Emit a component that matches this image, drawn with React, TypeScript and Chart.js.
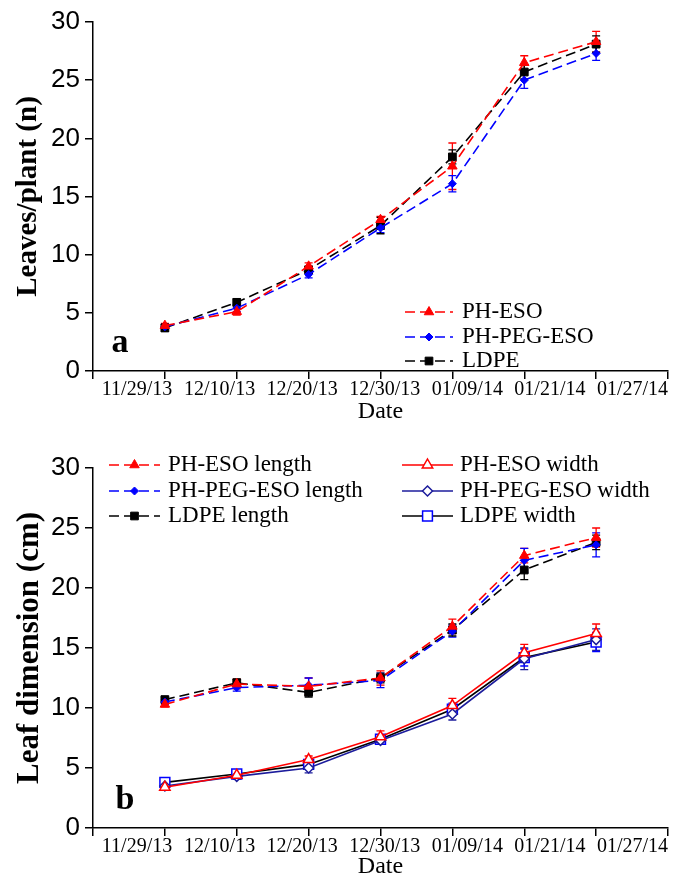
import React, { useEffect, useRef } from "react";
import { Chart, registerables } from "chart.js";
Chart.register(...registerables);

// ---------- data ----------
const dates = ["11/29/13", "12/10/13", "12/20/13", "12/30/13", "01/09/14", "01/21/14", "01/27/14"];

// Panel a: leaves per plant
const leavesPHESO = [3.9, 5.1, 9.0, 13.0, 17.6, 26.5, 28.3];
const leavesPHESOErr = [0.2, 0.3, 0.3, 0.3, 2.0, 0.6, 0.9];
const leavesPEG = [3.8, 5.4, 8.3, 12.3, 16.1, 25.0, 27.3];
const leavesPEGErr = [0.2, 0.3, 0.3, 0.4, 0.7, 0.7, 0.6];
const leavesLDPE = [3.7, 5.9, 8.7, 12.5, 18.4, 25.7, 28.1];
const leavesLDPEErr = [0.3, 0.3, 0.3, 0.7, 0.6, 0.6, 0.7];

// Panel b: leaf dimension
const lenPHESO = [10.3, 12.0, 11.8, 12.5, 16.8, 22.7, 24.2];
const lenPHESOErr = [0.2, 0.4, 0.7, 0.6, 0.6, 0.6, 0.8];
const lenPEG = [10.5, 11.7, 11.9, 12.3, 16.4, 22.3, 23.6];
const lenPEGErr = [0.2, 0.3, 0.6, 0.6, 0.5, 1.0, 1.0];
const lenLDPE = [10.7, 12.1, 11.3, 12.5, 16.5, 21.5, 23.8];
const lenLDPEErr = [0.2, 0.3, 0.4, 0.4, 0.5, 0.8, 0.6];
const widPHESO = [3.4, 4.4, 5.7, 7.6, 10.2, 14.6, 16.2];
const widPHESOErr = [0.2, 0.3, 0.3, 0.5, 0.6, 0.7, 0.8];
const widPEG = [3.5, 4.3, 5.0, 7.3, 9.5, 14.1, 15.7];
const widPEGErr = [0.2, 0.2, 0.4, 0.3, 0.5, 0.9, 0.9];
const widLDPE = [3.8, 4.5, 5.3, 7.4, 9.9, 14.2, 15.5];
const widLDPEErr = [0.2, 0.2, 0.3, 0.3, 0.5, 0.7, 0.8];

const yTicksMax = 30;
const yStep = 5;

// ---------- helpers ----------
const SERIF = "'Liberation Serif', 'Times New Roman', serif";
const NARROW = "'Liberation Sans Narrow', 'Liberation Sans', Arial, sans-serif";
const RED = "#ff0000";
const BLUE = "#0000ff";
const NAVY = "#1c1c9c";
const BLACK = "#000000";
const DASH = [10, 5];

const toPts = (vals: number[]) => vals.map((v, i) => ({ x: i + 1, y: v }));

function ds(label: string, vals: number[], errs: number[], color: string, marker: string, opts: any = {}) {
  const hollow = !!opts.hollow;
  const mColor = opts.markerColor || color;
  return {
    label,
    data: toPts(vals),
    errors: errs,
    errColor: opts.errColor || mColor,
    borderColor: color,
    borderWidth: 1.6,
    borderDash: opts.dash || [],
    pointStyle: marker,
    pointRadius: opts.radius || 5,
    pointBorderColor: mColor,
    pointBackgroundColor: hollow ? "#ffffff" : mColor,
    pointBorderWidth: hollow ? 1.5 : 1,
    tension: 0,
    fill: false,
    hollow,
    markerColor: mColor,
  };
}

function drawMarker(ctx: CanvasRenderingContext2D, style: string, x: number, y: number, r: number, color: string, hollow: boolean) {
  ctx.save();
  ctx.setLineDash([]);
  ctx.beginPath();
  if (style === "triangle") {
    ctx.moveTo(x, y - r);
    ctx.lineTo(x + r * 0.866, y + r * 0.5);
    ctx.lineTo(x - r * 0.866, y + r * 0.5);
    ctx.closePath();
  } else if (style === "rectRot") {
    ctx.moveTo(x, y - r);
    ctx.lineTo(x + r, y);
    ctx.lineTo(x, y + r);
    ctx.lineTo(x - r, y);
    ctx.closePath();
  } else {
    const s = r * 0.7;
    ctx.rect(x - s, y - s, 2 * s, 2 * s);
  }
  ctx.fillStyle = hollow ? "#ffffff" : color;
  ctx.fill();
  ctx.strokeStyle = color;
  ctx.lineWidth = hollow ? 1.5 : 1;
  ctx.stroke();
  ctx.restore();
}

const errorBarPlugin = {
  id: "errorBars",
  beforeDatasetsDraw(chart: any) {
    const ctx = chart.ctx;
    const yScale = chart.scales.y;
    chart.data.datasets.forEach((d: any, di: number) => {
      const meta = chart.getDatasetMeta(di);
      if (!d.errors) return;
      ctx.save();
      ctx.strokeStyle = d.errColor;
      ctx.lineWidth = 1.3;
      ctx.setLineDash([]);
      meta.data.forEach((pt: any, i: number) => {
        const v = d.data[i].y;
        const e = d.errors[i];
        const x = pt.x;
        const y1 = yScale.getPixelForValue(v + e);
        const y2 = yScale.getPixelForValue(v - e);
        ctx.beginPath();
        ctx.moveTo(x, y1);
        ctx.lineTo(x, y2);
        ctx.moveTo(x - 4, y1);
        ctx.lineTo(x + 4, y1);
        ctx.moveTo(x - 4, y2);
        ctx.lineTo(x + 4, y2);
        ctx.stroke();
      });
      ctx.restore();
    });
  },
};

const customLegendPlugin = {
  id: "customLegend",
  afterDraw(chart: any, _args: any, opts: any) {
    if (!opts || !opts.rows) return;
    const ctx = chart.ctx;
    chart.data.datasets.forEach((d: any, i: number) => {
      const row = opts.rows[i];
      if (!row) return;
      ctx.save();
      ctx.strokeStyle = d.borderColor;
      ctx.lineWidth = 1.6;
      ctx.setLineDash(d.borderDash || []);
      ctx.beginPath();
      ctx.moveTo(row.x0, row.y);
      ctx.lineTo(row.x1, row.y);
      ctx.stroke();
      ctx.restore();
      drawMarker(ctx, d.pointStyle, (row.x0 + row.x1) / 2, row.y, d.pointRadius, d.markerColor, d.hollow);
      ctx.save();
      ctx.fillStyle = "#000";
      ctx.font = `${opts.fontSize}px ${SERIF}`;
      ctx.textBaseline = "middle";
      ctx.textAlign = "left";
      ctx.fillText(d.label, row.tx, row.y);
      ctx.restore();
    });
    if (opts.letter) {
      ctx.save();
      ctx.fillStyle = "#000";
      ctx.font = `bold ${opts.letter.size}px ${SERIF}`;
      ctx.textAlign = "center";
      ctx.textBaseline = "middle";
      ctx.fillText(opts.letter.text, opts.letter.x, opts.letter.y);
      ctx.restore();
    }
  },
};

function makeOptions(p: any) {
  return {
    responsive: false,
    animation: false,
    layout: { padding: { top: p.top, right: p.right, left: 0, bottom: 0 } },
    plugins: {
      legend: { display: false },
      tooltip: { enabled: false },
      customLegend: p.legend,
    },
    scales: {
      x: {
        type: "linear",
        min: 0,
        max: dates.length + 1,
        position: "bottom",
        weight: 0,
        ticks: { display: false, stepSize: 1 },
        grid: { drawOnChartArea: false, drawTicks: true, tickLength: 8, color: "#000", lineWidth: 1.5 },
        border: { display: true, color: "#000", width: 1.5 },
        afterFit: (s: any) => { s.height = 7; },
      },
      x2: {
        type: "linear",
        min: 0.467,
        max: 7.43,
        position: "bottom",
        weight: 1,
        afterBuildTicks: (s: any) => { s.ticks = dates.map((_, i) => ({ value: i + 1 })); },
        ticks: {
          callback: (v: any) => dates[Math.round(v) - 1] ?? "",
          font: { family: SERIF, size: 20 },
          color: "#000",
          padding: 0,
          maxRotation: 0,
          autoSkip: false,
        },
        grid: { display: false, drawTicks: false },
        border: { display: false },
        title: { display: true, text: "Date", font: { family: SERIF, size: 24 }, color: "#000", padding: { top: 0, bottom: p.datePad } },
        afterFit: (s: any) => { s.height = p.x2h; },
      },
      y: {
        min: 0,
        max: yTicksMax,
        ticks: { stepSize: yStep, font: { family: NARROW, size: 26 }, color: "#000", padding: 5 },
        grid: { drawOnChartArea: false, tickLength: 8, color: "#000", lineWidth: 1.5 },
        border: { color: "#000", width: 1.5 },
        title: { display: true, text: p.yTitle, font: { family: SERIF, size: p.yTitleSize, weight: "bold" }, color: "#000", padding: { top: 11, bottom: 0 } },
        afterFit: (s: any) => { s.width = 93; },
      },
    },
  };
}

function ChartCanvas({ config, width, height, top }: any) {
  const ref = useRef<HTMLCanvasElement>(null);
  useEffect(() => {
    const chart = new Chart(ref.current as HTMLCanvasElement, config);
    return () => chart.destroy();
  }, []);
  return (
    <canvas ref={ref} width={width} height={height}
      style={{ position: "absolute", left: 0, top, width, height, display: "block" }} />
  );
}

export default function App() {
  const topDatasets = [
    ds("PH-ESO", leavesPHESO, leavesPHESOErr, RED, "triangle", { dash: DASH, radius: 5.5 }),
    ds("PH-PEG-ESO", leavesPEG, leavesPEGErr, BLUE, "rectRot", { dash: DASH, radius: 4 }),
    ds("LDPE", leavesLDPE, leavesLDPEErr, BLACK, "rect", { dash: DASH, radius: 5.5 }),
  ];
  const bottomDatasets = [
    ds("PH-ESO length", lenPHESO, lenPHESOErr, RED, "triangle", { dash: DASH, radius: 5.5 }),
    ds("PH-PEG-ESO length", lenPEG, lenPEGErr, BLUE, "rectRot", { dash: DASH, radius: 4 }),
    ds("LDPE length", lenLDPE, lenLDPEErr, BLACK, "rect", { dash: DASH, radius: 5.5 }),
    ds("PH-ESO width", widPHESO, widPHESOErr, RED, "triangle", { hollow: true, radius: 6 }),
    ds("PH-PEG-ESO width", widPEG, widPEGErr, NAVY, "rectRot", { hollow: true, radius: 5, markerColor: NAVY }),
    ds("LDPE width", widLDPE, widLDPEErr, BLACK, "rect", { hollow: true, radius: 7, markerColor: BLUE }),
  ];

  const topConfig: any = {
    type: "line",
    data: { datasets: topDatasets },
    plugins: [errorBarPlugin, customLegendPlugin],
    options: makeOptions({
      top: 22, right: 17, x2h: 62, datePad: 14,
      yTitle: "Leaves/plant (n)", yTitleSize: 29,
      legend: {
        fontSize: 23,
        rows: [
          { x0: 405, x1: 453, tx: 462, y: 312 },
          { x0: 405, x1: 453, tx: 462, y: 337 },
          { x0: 405, x1: 453, tx: 462, y: 361 },
        ],
        letter: { text: "a", x: 120, y: 343, size: 34 },
      },
    }),
  };

  const bottomConfig: any = {
    type: "line",
    data: { datasets: bottomDatasets },
    plugins: [errorBarPlugin, customLegendPlugin],
    options: makeOptions({
      top: 28, right: 17, x2h: 46, datePad: 0,
      yTitle: "Leaf dimension (cm)", yTitleSize: 31,
      legend: {
        fontSize: 23,
        rows: [
          { x0: 109, x1: 160, tx: 168, y: 25 },
          { x0: 109, x1: 160, tx: 168, y: 51 },
          { x0: 109, x1: 160, tx: 168, y: 76 },
          { x0: 402, x1: 453, tx: 460, y: 25 },
          { x0: 402, x1: 453, tx: 460, y: 51 },
          { x0: 402, x1: 453, tx: 460, y: 76 },
        ],
        letter: { text: "b", x: 125, y: 360, size: 34 },
      },
    }),
  };

  return (
    <div style={{ position: "absolute", left: 0, top: 0, width: 685, height: 881, background: "#fff" }}>
      <ChartCanvas config={topConfig} width={685} height={440} top={0} />
      <ChartCanvas config={bottomConfig} width={685} height={441} top={440} />
    </div>
  );
}
